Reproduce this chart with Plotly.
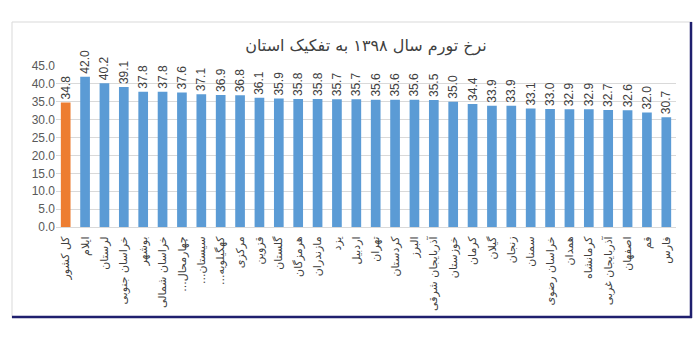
import plotly.graph_objects as go

categories = ["کل کشور", "ایلام", "لرستان", "خراسان جنوبی", "بوشهر", "خراسان شمالی",
              "...چهارمحال", "...سیستان", "...کهگیلویه", "مرکزی", "قزوین", "گلستان",
              "هرمزگان", "مازندران", "یزد", "اردبیل", "تهران", "کردستان", "البرز",
              "آذربایجان شرقی", "خوزستان", "کرمان", "گیلان", "زنجان", "سمنان",
              "خراسان رضوی", "همدان", "کرمانشاه", "آذربایجان غربی", "اصفهان", "قم", "فارس"]
values = [34.8, 42.0, 40.2, 39.1, 37.8, 37.8, 37.6, 37.1, 36.9, 36.8, 36.1, 35.9,
          35.8, 35.8, 35.7, 35.7, 35.6, 35.6, 35.6, 35.5, 35.0, 34.4, 33.9, 33.9,
          33.1, 33.0, 32.9, 32.9, 32.7, 32.6, 32.0, 30.7]
title_text = "نرخ تورم سال ۱۳۹۸ به تفکیک استان"
y_ticks = [0, 5, 10, 15, 20, 25, 30, 35, 40, 45]

colors = ["#ED7D31"] + ["#5B9BD5"] * (len(values) - 1)

fig = go.Figure(go.Bar(
    x=list(range(len(categories))), y=values,
    marker=dict(color=colors, line=dict(width=0)),
    text=[f"{v:.1f}" for v in values], textposition="outside", textangle=-90,
    constraintext="none",
    textfont=dict(size=12, color="#404040", family="Liberation Sans"),
    cliponaxis=False, width=0.5,
))

L, R, T, B = 56, 24, 66, 118
W, H = 700, 345
pw, ph = W - L - R, H - T - B

def px(x):
    return (x - L) / pw

def py(y):
    return (H - B - y) / ph

fig.update_layout(
    width=W, height=H, margin=dict(l=L, r=R, t=T, b=B),
    paper_bgcolor="white", plot_bgcolor="white",
    showlegend=False,
    title=dict(text=title_text, x=0.5, xref="paper", xanchor="center",
               y=1 - 45 / H, yanchor="middle",
               font=dict(size=16, color="#404040", family="DejaVu Sans")),
    xaxis=dict(tickmode="array", tickvals=list(range(len(categories))), ticktext=categories,
               tickangle=-90, range=[-0.5, len(categories) - 0.5],
               tickfont=dict(size=11, color="#404040", family="DejaVu Sans"),
               showgrid=False, showline=True, linecolor="#d9d9d9", ticks="",
               ticklabelstandoff=4),
    yaxis=dict(range=[0, 45], tickvals=y_ticks, tickformat=".1f",
               tickfont=dict(size=12, color="#595959", family="Liberation Sans"),
               showgrid=True, gridcolor="#d9d9d9", zeroline=False, showline=False, ticks=""),
    shapes=[
        dict(type="line", xref="paper", yref="paper", x0=px(12), x1=px(692), y0=py(22), y1=py(22),
             line=dict(color="#d9d9d9", width=1)),
        dict(type="line", xref="paper", yref="paper", x0=px(12), x1=px(12), y0=py(22), y1=py(318),
             line=dict(color="#d9d9d9", width=1)),
        dict(type="line", xref="paper", yref="paper", x0=px(691), x1=px(691), y0=py(22), y1=py(318),
             line=dict(color="#1f1f6e", width=2.5)),
        dict(type="line", xref="paper", yref="paper", x0=px(12), x1=px(692), y0=py(317), y1=py(317),
             line=dict(color="#1f1f6e", width=2.5)),
    ],
)

fig.write_html("out.html")
